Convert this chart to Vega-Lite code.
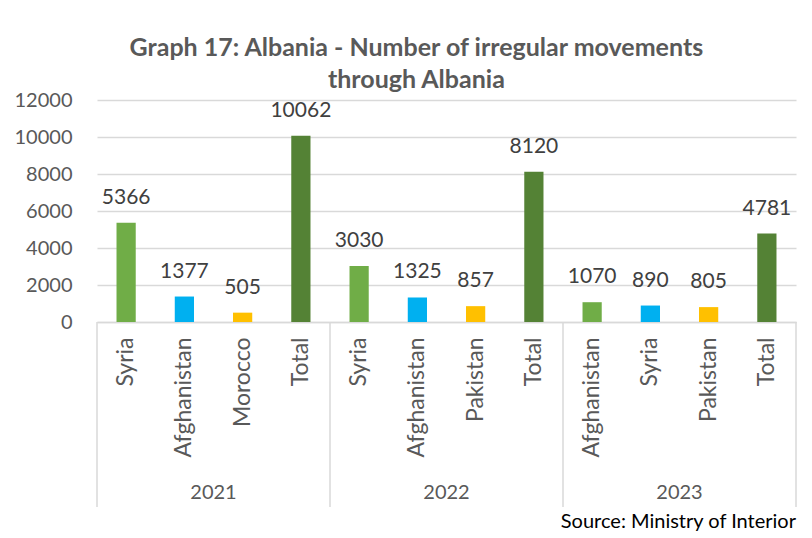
{
  "$schema": "https://vega.github.io/schema/vega-lite/v6.json",
  "width": 699,
  "height": 222,
  "padding": {"left": 14, "top": 36, "right": 10, "bottom": 4},
  "background": "white",
  "config": {"font": "Lato", "view": {"stroke": null}},
  "title": {
    "text": ["Graph 17: Albania - Number of irregular movements", "through Albania"],
    "fontSize": 25,
    "fontWeight": "bold",
    "color": "#595959",
    "lineHeight": 32,
    "anchor": "middle",
    "frame": "bounds",
    "dx": 11,
    "offset": -3
  },
  "data": {
    "values": [
      {"year": "2021", "country": "Syria", "rank": 1, "value": 5366},
      {"year": "2021", "country": "Afghanistan", "rank": 2, "value": 1377},
      {"year": "2021", "country": "Morocco", "rank": 3, "value": 505},
      {"year": "2021", "country": "Total", "rank": 4, "value": 10062},
      {"year": "2022", "country": "Syria", "rank": 1, "value": 3030},
      {"year": "2022", "country": "Afghanistan", "rank": 2, "value": 1325},
      {"year": "2022", "country": "Pakistan", "rank": 3, "value": 857},
      {"year": "2022", "country": "Total", "rank": 4, "value": 8120},
      {"year": "2023", "country": "Afghanistan", "rank": 1, "value": 1070},
      {"year": "2023", "country": "Syria", "rank": 2, "value": 890},
      {"year": "2023", "country": "Pakistan", "rank": 3, "value": 805},
      {"year": "2023", "country": "Total", "rank": 4, "value": 4781}
    ]
  },
  "transform": [{"calculate": "datum.year + '|' + datum.country", "as": "key"}],
  "encoding": {
    "x": {
      "field": "key",
      "type": "nominal",
      "scale": {
        "domain": ["2021|Syria", "2021|Afghanistan", "2021|Morocco", "2021|Total", "2022|Syria", "2022|Afghanistan", "2022|Pakistan", "2022|Total", "2023|Afghanistan", "2023|Syria", "2023|Pakistan", "2023|Total"],
        "paddingInner": 0,
        "paddingOuter": 0
      },
      "axis": {
        "title": null,
        "labelExpr": "split(datum.value, '|')[1]",
        "labelAngle": -90,
        "labelFontSize": 23,
        "labelColor": "#595959",
        "labelPadding": 15,
        "ticks": false,
        "domainColor": "#d9d9d9",
        "domainWidth": 1.5
      }
    }
  },
  "layer": [
    {
      "mark": {"type": "bar", "width": {"band": 0.33}},
      "encoding": {
        "y": {
          "field": "value",
          "type": "quantitative",
          "scale": {"domain": [0, 12000], "nice": false},
          "axis": {
            "title": null,
            "values": [0, 2000, 4000, 6000, 8000, 10000, 12000],
            "tickCount": 7,
            "format": "d",
            "labelOverlap": false,
            "labelFontSize": 20,
            "labelColor": "#595959",
            "labelPadding": 25,
            "ticks": false,
            "domain": false,
            "gridColor": "#d9d9d9",
            "gridWidth": 1.5
          }
        },
        "color": {
          "field": "rank",
          "type": "nominal",
          "scale": {"domain": [1, 2, 3, 4], "range": ["#70AD47", "#00B0F0", "#FFC000", "#548235"]},
          "legend": null
        }
      }
    },
    {
      "mark": {"type": "text", "baseline": "alphabetic", "dy": -19, "fontSize": 21, "color": "#404040"},
      "encoding": {
        "y": {"field": "value", "type": "quantitative"},
        "text": {"field": "value", "type": "quantitative", "format": "d"}
      }
    },
    {
      "transform": [{"filter": "datum.rank == 1"}],
      "mark": {"type": "rule", "color": "#d9d9d9", "strokeWidth": 1.5},
      "encoding": {
        "x": {"field": "key", "type": "nominal", "bandPosition": 0},
        "y": {"datum": 0},
        "y2": {"datum": -10000}
      }
    },
    {
      "transform": [{"filter": "datum.rank == 4 && datum.year == '2023'"}],
      "mark": {"type": "rule", "color": "#d9d9d9", "strokeWidth": 1.5},
      "encoding": {
        "x": {"field": "key", "type": "nominal", "bandPosition": 1},
        "y": {"datum": 0},
        "y2": {"datum": -10000}
      }
    },
    {
      "transform": [{"filter": "datum.rank == 2"}],
      "mark": {"type": "text", "baseline": "middle", "align": "center", "fontSize": 20, "color": "#595959"},
      "encoding": {
        "x": {"field": "key", "type": "nominal", "bandPosition": 1},
        "y": {"datum": -9250},
        "text": {"field": "year"}
      }
    },
    {
      "transform": [{"filter": "datum.rank == 4 && datum.year == '2023'"}],
      "mark": {"type": "text", "baseline": "middle", "align": "right", "fontSize": 20, "color": "#000000"},
      "encoding": {
        "x": {"field": "key", "type": "nominal", "bandPosition": 1},
        "y": {"datum": -10800},
        "text": {"value": "Source: Ministry of Interior"}
      }
    }
  ]
}
